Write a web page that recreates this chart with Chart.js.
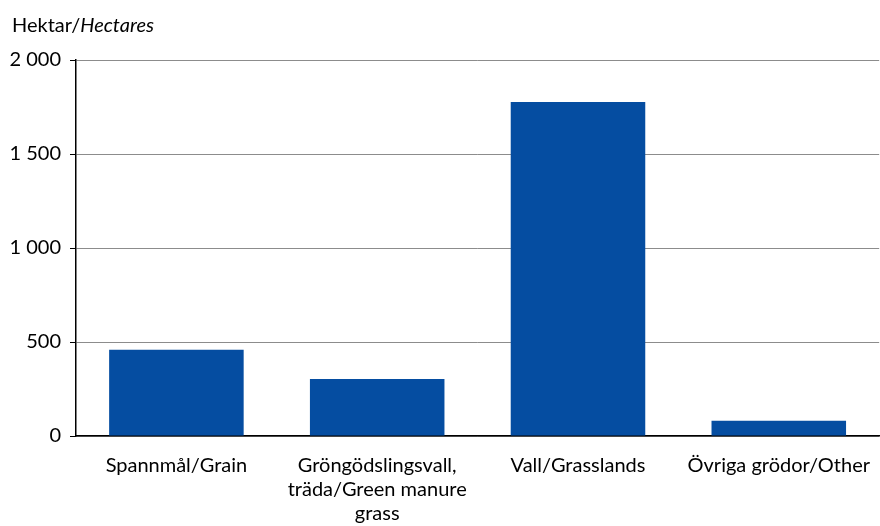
<!DOCTYPE html>
<html><head><meta charset="utf-8">
<script src="https://cdn.jsdelivr.net/npm/chart.js@4/dist/chart.umd.min.js"></script>
<style>
html,body{margin:0;padding:0;background:#fff;overflow:hidden;}
#wrap{position:relative;width:880px;height:526px;overflow:hidden;}
#title{position:absolute;left:12px;top:12px;font-family:Lato,"Noto Sans",sans-serif;font-size:20px;color:#000;line-height:24px;}
canvas{position:absolute;left:0;top:0;width:888px !important;height:526px !important;max-width:none;}
</style></head>
<body>
<div id="wrap">
<canvas id="c" width="888" height="526" style="width:888px;height:526px"></canvas>
<div id="title">Hektar/<i>Hectares</i></div>
</div>
<script>
const categories = [
  "Spannmål/Grain",
  ["Gröngödslingsvall,", "träda/Green manure", "grass"],
  "Vall/Grasslands",
  "Övriga grödor/Other"
];
const hectares = [459, 303, 1777, 81];
const yTicks = [0, 500, 1000, 1500, 2000];

const fmt = v => String(v).replace(/\B(?=(\d{3})+(?!\d))/g, " ");

new Chart(document.getElementById('c'), {
  type: 'bar',
  data: {
    labels: categories,
    datasets: [{
      data: hectares,
      backgroundColor: '#054DA1',
      categoryPercentage: 0.67,
      barPercentage: 1.0
    }]
  },
  options: {
    responsive: false,
    maintainAspectRatio: false,
    animation: false,
    layout: { padding: { top: 60, right: 0, left: 0, bottom: 0 } },
    plugins: { legend: { display: false }, tooltip: { enabled: false } },
    scales: {
      x: {
        grid: { display: false, drawTicks: false },
        border: { color: '#000', width: 1.5 },
        ticks: { color: '#000', font: { family: 'Lato', size: 20, lineHeight: 1.2 }, padding: 18, maxRotation: 0, autoSkip: false },
        afterFit: s => { s.height = 90; }
      },
      y: {
        min: 0, max: 2000,
        afterBuildTicks: s => { s.ticks = yTicks.map(v => ({ value: v })); },
        grid: { color: '#8c8c8c', lineWidth: 1, tickLength: 6, tickColor: '#000' },
        border: { color: '#000', width: 1.5 },
        ticks: { color: '#000', font: { family: 'Lato', size: 20 }, padding: 9, callback: v => fmt(v) },
        afterFit: s => { s.width = 76; }
      }
    }
  }
});
</script>
</body></html>
